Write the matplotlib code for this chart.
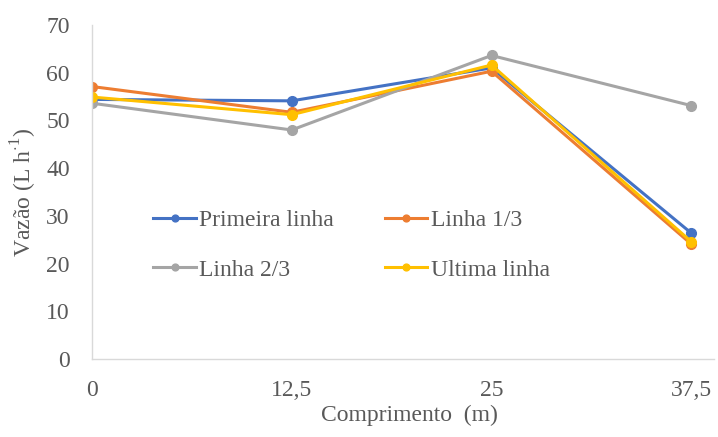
import numpy as np
import matplotlib.pyplot as plt

plt.rcParams['font.family'] = ['Liberation Serif', 'DejaVu Serif']
plt.rcParams['mathtext.fontset'] = 'custom'
plt.rcParams['mathtext.rm'] = 'Liberation Serif'

comprimento = [0, 12.5, 25, 37.5]
xlabels = ['0', '12,5', '25', '37,5']

primeira = [54.4, 54.1, 61.0, 26.4]
linha_13 = [57.1, 51.7, 60.3, 24.1]
linha_23 = [53.6, 48.0, 63.6, 53.1]
ultima = [54.9, 51.2, 61.6, 24.6]

series = [
    ('Primeira linha', primeira, '#4472C4'),
    ('Linha 1/3', linha_13, '#ED7D31'),
    ('Linha 2/3', linha_23, '#A5A5A5'),
    ('Ultima linha', ultima, '#FFC000'),
]

fig = plt.figure(figsize=(7.18, 4.37), dpi=100)
ax = fig.add_axes([0.128, 0.178, 0.866, 0.765])

for nome, vals, cor in series:
    ax.plot(comprimento, vals, color=cor, lw=2.2, marker='o', ms=7, label=nome)

ax.set_xlim(0, 38.9)
ax.set_ylim(0, 70)
ax.set_xticks(comprimento)
ax.set_xticklabels(xlabels)
ax.set_yticks(np.arange(0, 71, 10))

for s in ['top', 'right']:
    ax.spines[s].set_visible(False)
for s in ['left', 'bottom']:
    ax.spines[s].set_color('#D9D9D9')
    ax.spines[s].set_linewidth(1.0)

ax.tick_params(length=0, labelsize=17, colors='#595959')
ax.tick_params(axis='y', pad=16)
ax.tick_params(axis='x', pad=15)

ax.set_xlabel('Comprimento  (m)', fontsize=17, color='#595959')
ax.xaxis.set_label_coords(0.51, -0.135)
ax.set_ylabel(r'Vazão (L h$^{\cdot 1}$)', fontsize=17, color='#595959')
ax.yaxis.set_label_coords(-0.085, 0.5)

# legenda preenchida por linhas: 1a linha / 1/3, depois 2/3 / ultima
h, l = ax.get_legend_handles_labels()
ordem = [0, 2, 1, 3]
leg = ax.legend([h[i] for i in ordem], [l[i] for i in ordem], ncol=2,
                loc='upper left', bbox_to_anchor=(0.197, 0.548),
                bbox_transform=fig.transFigure, frameon=False, fontsize=17,
                borderpad=0, labelspacing=1.2, columnspacing=2.15,
                handlelength=1.8, handletextpad=0.15, markerscale=0.7)
for t in leg.get_texts():
    t.set_color('#595959')

fig.savefig('out.png', dpi=100)
